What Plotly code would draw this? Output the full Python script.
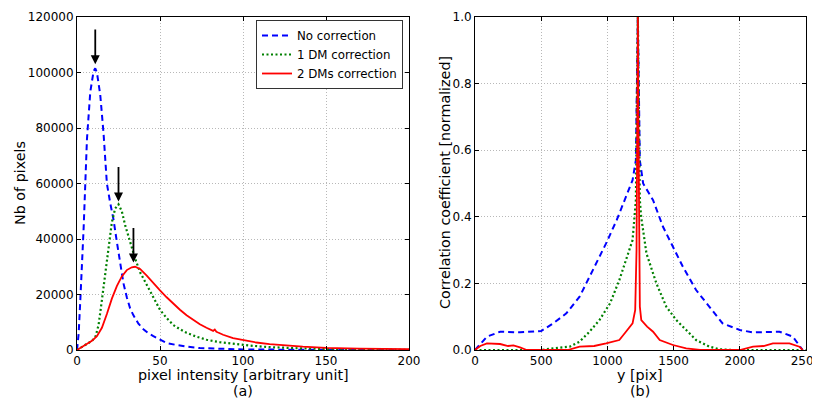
import plotly.graph_objects as go

# ---- Panel (a): histogram of pixel intensities ----
a_x_none = [0, 1, 2, 4, 6, 8, 10, 11, 12, 14, 16, 18, 20, 22, 24, 26, 28, 30, 32, 34, 37, 40, 43, 46, 50, 54, 60, 66, 74, 85, 100, 130, 200]
a_y_none = [0, 6000, 18000, 44000, 76000, 93000, 100500, 101500, 100000, 92000, 78000, 60000, 53000, 47000, 39000, 31000, 24000, 19000, 15000, 12500, 9500, 7500, 6000, 5000, 3600, 2500, 1800, 1200, 700, 400, 200, 100, 0]

a_x_one = [0, 3, 6, 9, 11, 13, 15, 17, 19, 21, 23, 25, 27, 29, 32, 35, 38, 41, 44, 47, 50, 54, 58, 62, 66, 72, 78, 86, 94, 104, 114, 124, 134, 150, 175, 200]
a_y_one = [0, 1200, 2400, 3300, 4500, 9000, 18000, 28000, 38000, 46000, 51000, 52500, 50000, 45000, 39000, 33000, 28000, 24500, 21000, 17500, 14500, 11500, 9000, 7500, 6200, 4800, 3700, 2800, 2200, 1600, 1100, 800, 600, 350, 150, 50]

a_x_two = [0, 3, 6, 9, 12, 15, 18, 21, 24, 27, 30, 33, 35, 38, 42, 46, 50, 54, 58, 62, 66, 70, 74, 78, 82, 83, 84, 85, 88, 94, 100, 108, 116, 126, 136, 150, 170, 200]
a_y_two = [0, 1200, 2400, 3300, 5000, 8000, 13000, 18500, 23000, 26500, 28800, 29800, 30000, 29200, 26800, 24000, 21500, 19000, 16600, 14500, 12500, 10800, 9300, 8000, 6900, 7400, 6600, 6300, 5500, 4300, 3500, 2700, 2100, 1600, 1200, 800, 500, 350]

# arrows marking peaks (x, tail y, head y)
arrow_x = [11, 25, 34]
arrow_tail = [116000, 66500, 44500]
arrow_head = [103000, 53500, 31500]

# ---- Panel (b): correlation coefficient ----
b_x_none = [0, 90, 190, 340, 500, 590, 690, 790, 890, 990, 1070, 1140, 1190, 1215, 1230, 1245, 1270, 1345, 1420, 1495, 1570, 1670, 1770, 1870, 2000, 2100, 2300, 2400, 2475]
b_y_none = [0, 0.04, 0.055, 0.053, 0.057, 0.08, 0.11, 0.16, 0.24, 0.32, 0.39, 0.46, 0.51, 0.57, 1.0, 0.57, 0.5, 0.45, 0.37, 0.31, 0.25, 0.18, 0.13, 0.08, 0.06, 0.053, 0.055, 0.04, 0.0]

b_x_one = [0, 500, 590, 715, 790, 865, 940, 1020, 1090, 1140, 1190, 1215, 1230, 1245, 1255, 1295, 1370, 1445, 1520, 1595, 1670, 1770, 1850, 1950, 2500]
b_y_one = [0, 0, 0.005, 0.01, 0.025, 0.055, 0.09, 0.14, 0.21, 0.27, 0.33, 0.45, 1.0, 0.45, 0.4, 0.29, 0.2, 0.13, 0.09, 0.06, 0.03, 0.01, 0.002, 0, 0]

b_x_two = [0, 40, 90, 190, 250, 290, 340, 390, 500, 700, 790, 900, 990, 1050, 1090, 1140, 1190, 1210, 1220, 1226, 1230, 1234, 1240, 1245, 1256, 1300, 1345, 1395, 1495, 1595, 1700, 2000, 2100, 2180, 2250, 2375, 2450, 2475]
b_y_two = [0, 0.012, 0.02, 0.018, 0.012, 0.014, 0.008, 0.0, 0.0, 0.0, 0.01, 0.012, 0.02, 0.025, 0.03, 0.055, 0.08, 0.12, 0.3, 0.7, 1.0, 0.7, 0.25, 0.13, 0.09, 0.07, 0.055, 0.03, 0.015, 0.005, 0.0, 0.0, 0.01, 0.012, 0.02, 0.02, 0.01, 0.0]

legend_names = ["No correction", "1 DM correction", "2 DMs correction"]
colors = ["#0000ff", "#008000", "#ff0000"]
dashes = ["6px,4px", "2px,2.5px", "solid"]
widths = [2, 2.2, 1.8]

fig = go.Figure()
a_series = [(a_x_none, a_y_none), (a_x_one, a_y_one), (a_x_two, a_y_two)]
b_series = [(b_x_none, b_y_none), (b_x_one, b_y_one), (b_x_two, b_y_two)]
for i, (xs, ys) in enumerate(a_series):
    fig.add_trace(go.Scatter(x=xs, y=ys, mode="lines", name=legend_names[i],
                             line=dict(color=colors[i], dash=dashes[i], width=widths[i]),
                             xaxis="x", yaxis="y"))
for i, (xs, ys) in enumerate(b_series):
    fig.add_trace(go.Scatter(x=xs, y=ys, mode="lines", name=legend_names[i], showlegend=False,
                             line=dict(color=colors[i], dash=dashes[i], width=widths[i]),
                             xaxis="x2", yaxis="y2"))

# page body has an 8px margin: figure occupies screen pixels from (8, 8)
OFF = 8
W, H = 820 - OFF, 400 - OFF


def px(sx):
    return (sx - OFF) / W


def py(sy):
    return 1 - (sy - OFF) / H


font = "DejaVu Sans, sans-serif"
ax_common = dict(showline=True, linecolor="black", linewidth=1, mirror="ticks",
                 ticks="inside", ticklen=4, tickcolor="black", showgrid=True,
                 gridcolor="#b8b8b8", griddash="1px,2px", gridwidth=1, zeroline=False,
                 automargin=False, ticklabeloverflow="allow",
                 tickfont=dict(size=12, color="black", family=font))

fig.update_layout(
    width=W, height=H, margin=dict(l=0, r=0, t=0, b=0, autoexpand=False),
    paper_bgcolor="white", plot_bgcolor="white",
    font=dict(family=font, color="black"),
    xaxis=dict(domain=[px(77), px(409)], range=[0, 200], tickvals=[0, 50, 100, 150, 200], **ax_common),
    yaxis=dict(domain=[py(350), py(17)], range=[0, 120000],
               tickvals=[0, 20000, 40000, 60000, 80000, 100000, 120000], tickformat="d", **ax_common),
    xaxis2=dict(domain=[px(475), px(806)], range=[0, 2500], tickvals=[0, 500, 1000, 1500, 2000, 2500],
                anchor="y2", **ax_common),
    yaxis2=dict(domain=[py(350), py(17)], range=[0, 1.0], anchor="x2",
                tickvals=[0, 0.2, 0.4, 0.6, 0.8, 1.0], tickformat=".1f", **ax_common),
    legend=dict(x=px(256), y=py(20), xanchor="left", yanchor="top",
                bordercolor="#333333", borderwidth=1, bgcolor="white",
                font=dict(size=11.8), tracegroupgap=0, itemwidth=30),
    showlegend=True,
)

for xv, yt, yh in zip(arrow_x, arrow_tail, arrow_head):
    fig.add_annotation(x=xv, y=yh, ax=xv, ay=yt, xref="x", yref="y", axref="x", ayref="y",
                       showarrow=True, arrowhead=2, arrowsize=1, arrowwidth=1.8,
                       arrowcolor="black", text="")


def ptxt(text, sx, sy, rot=0, size=14.3):
    fig.add_annotation(text=text, x=px(sx), y=py(sy), xref="paper", yref="paper",
                       xanchor="center", yanchor="middle", showarrow=False, textangle=rot,
                       font=dict(size=size, color="black", family=font))


ptxt("pixel intensity [arbitrary unit]", 243, 375)
ptxt("(a)", 243, 391)
ptxt("Nb of pixels", 20, 183, rot=-90)
ptxt("y [pix]", 640, 375)
ptxt("(b)", 640, 391)
ptxt("Correlation coefficient [normalized]", 445, 183, rot=-90)

fig.write_html("out.html")
